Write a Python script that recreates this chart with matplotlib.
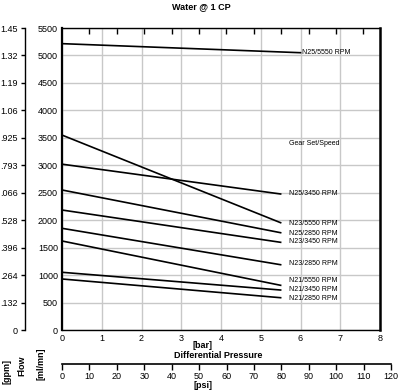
import numpy as np
import matplotlib
matplotlib.use('Agg')
import matplotlib.pyplot as plt

plt.rcParams['font.family'] = ['Liberation Sans', 'DejaVu Sans']

# Flow curves, water @ 1 CP
series_names = ["N25/5550 RPM", "N25/3450 RPM", "N23/5550 RPM", "N25/2850 RPM",
                "N23/3450 RPM", "N23/2850 RPM", "N21/5550 RPM", "N21/3450 RPM",
                "N21/2850 RPM"]
flow_start = [5215, 3020, 3550, 2550, 2185, 1852, 1621, 1051, 929]
flow_end = [5050, 2477, 1954, 1772, 1597, 1189, 814, 728, 588]
pressure_end = [6, 5.5, 5.5, 5.5, 5.5, 5.5, 5.5, 5.5, 5.5]
# where each curve's name sits (flow units)
label_flow = [5050, 2495, 1943, 1761, 1609, 1202, 903, 746, 577]

bar_ticks = list(range(0, 9))
flow_ticks = list(range(0, 5501, 500))
gpm_labels = ["0", ".132", ".264", ".396", ".528", ".066", ".793", ".925",
              "1.06", "1.19", "1.32", "1.45"]
psi_ticks = list(range(0, 121, 10))
PSI_PER_BAR = 14.5038

W, H = 400, 390
fig = plt.figure(figsize=(W / 100, H / 100), dpi=100)

def px(x0, y0, x1, y1):
    # pixel box -> figure fraction rect
    return [x0 / W, 1 - y1 / H, (x1 - x0) / W, (y1 - y0) / H]

ax = fig.add_axes(px(62, 28, 380, 330))
ax.set_xlim(0, 8)
ax.set_ylim(0, 5500)
ax.set_xticks(bar_ticks)
ax.set_yticks(flow_ticks)
ax.tick_params(axis='both', length=0, labelsize=6.5, pad=3)
ax.grid(True, color="#c8c8c8", linestyle='-', lw=1.0)
for side, lw in [("left", 1.6), ("right", 1.8), ("top", 1.0), ("bottom", 1.0)]:
    ax.spines[side].set_linewidth(lw)

# small psi ticks along the top edge
top = ax.secondary_xaxis('top')
top.set_xticks([p / PSI_PER_BAR for p in psi_ticks[1:-1]])
top.set_xticklabels([])
top.tick_params(direction='in', length=4, width=1)
top.spines['top'].set_visible(False)

for name, y0, y1, x1, ly in zip(series_names, flow_start, flow_end, pressure_end, label_flow):
    ax.plot([0, x1], [y0, y1], color="black", lw=1.2)
    lx = x1 + 0.05 if x1 > 5.5 else 5.7
    ax.text(lx, ly, name, fontsize=5, va='center', ha='left')

ax.text(5.72, 3405, "Gear Set/Speed", fontsize=5, va='center', ha='left')

# outer gpm axis
gax = fig.add_axes(px(25, 28, 25.5, 330))
gax.set_ylim(0, 5500)
gax.set_yticks(flow_ticks)
gax.set_yticklabels(gpm_labels)
gax.set_xticks([])
for side in ("right", "top", "bottom"):
    gax.spines[side].set_visible(False)
gax.spines['left'].set_linewidth(1.0)
gax.tick_params(axis='y', length=3, width=1, labelsize=6.5, pad=2)
gax.patch.set_visible(False)

# psi axis under the chart
pax = fig.add_axes(px(62, 363, 391, 364))
pax.set_xlim(0, 120)
pax.set_xticks(psi_ticks)
pax.set_yticks([])
for side in ("left", "right", "top"):
    pax.spines[side].set_visible(False)
pax.spines['bottom'].set_linewidth(1.2)
pax.tick_params(axis='x', length=4, width=1, labelsize=6.5, pad=1.5)
pax.patch.set_visible(False)

fig.text(201 / W, 1 - 7 / H, "Water @ 1 CP", fontsize=6.5, fontweight='bold', ha='center', va='center')
fig.text(203 / W, 1 - 346 / H, "[bar]", fontsize=6.5, fontweight='bold', ha='center', va='center')
fig.text(218 / W, 1 - 356 / H, "Differential Pressure", fontsize=6.5, fontweight='bold', ha='center', va='center')
fig.text(203 / W, 1 - 385.5 / H, "[psi]", fontsize=6.5, fontweight='bold', ha='center', va='center')
fig.text(7 / W, 1 - 372 / H, "[gpm]", fontsize=6.5, fontweight='bold', rotation=90, ha='center', va='center')
fig.text(22 / W, 1 - 366 / H, "Flow", fontsize=6.5, fontweight='bold', rotation=90, ha='center', va='center')
fig.text(41 / W, 1 - 364 / H, "[ml/mn]", fontsize=6.5, fontweight='bold', rotation=90, ha='center', va='center')

fig.savefig("out.png", dpi=100)
plt.close(fig)
